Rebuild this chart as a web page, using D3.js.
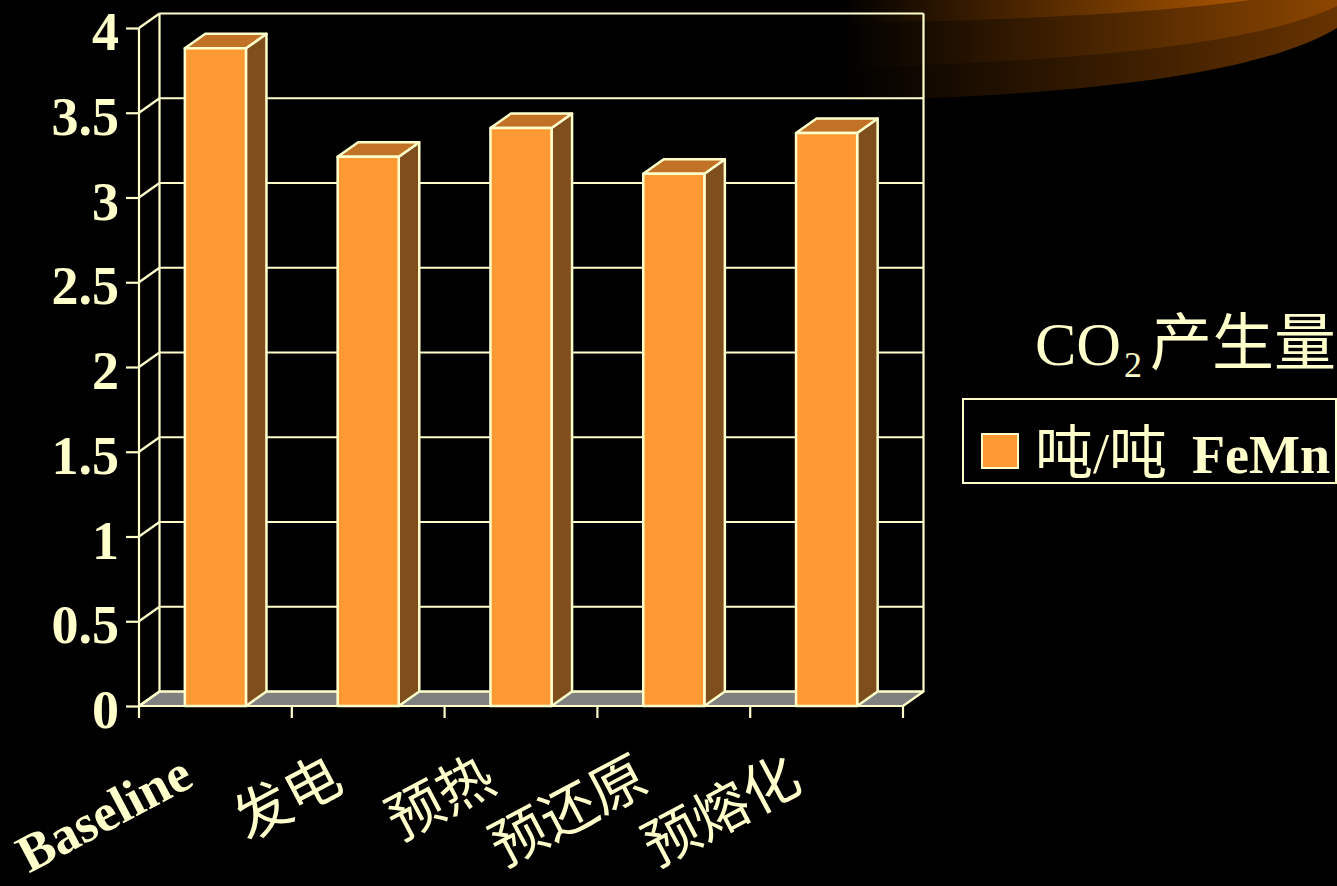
<!DOCTYPE html>
<html>
<head>
<meta charset="utf-8">
<script src="https://cdn.jsdelivr.net/npm/d3@7"></script>
<style>
  html, body { margin: 0; padding: 0; background: #000; }
  svg { display: block; }
</style>
</head>
<body>
<svg id="chart" width="1337" height="886"></svg>
<script>
// CO2 output per tonne of FeMn for each process option
const categories = ["Baseline", "发电", "预热", "预还原", "预熔化"];
const values = [3.88, 3.24, 3.41, 3.14, 3.38];
const yTicks = [0, 0.5, 1, 1.5, 2, 2.5, 3, 3.5, 4];
const yTickLabels = ["0", "0.5", "1", "1.5", "2", "2.5", "3", "3.5", "4"];
const seriesName = ["吨/吨", "FeMn"];
const legendTitle = ["CO", "2", "产生量"];

const INK = "#FFFFCC";
const FRONT = "#FF9933";
const TOP = "#C27226";
const SIDE = "#7F4E1D";
const FLOOR = "#808080";
const SERIF = "'Liberation Serif', 'Times New Roman', 'Noto Sans CJK SC', serif";

const svg = d3.select("#chart");
svg.append("rect").attr("width", 1337).attr("height", 886).attr("fill", "#000");

// ---- decorative swoosh in the top-right corner ----
const defs = svg.append("defs");
function hGrad(id, color, x2) {
  const g = defs.append("linearGradient").attr("id", id)
    .attr("gradientUnits", "userSpaceOnUse")
    .attr("x1", 840).attr("y1", 0).attr("x2", x2).attr("y2", 0);
  g.append("stop").attr("offset", 0).attr("stop-color", "#000");
  g.append("stop").attr("offset", 1).attr("stop-color", color);
}
hGrad("swLow", "#673300", 1337);
hGrad("swMid", "#8C4600", 1337);
hGrad("swTop", "#A85400", 1245);

const swoosh = svg.append("g");
swoosh.append("path").attr("fill", "url(#swLow)")
  .attr("d", "M840,0 L840,101 C1050,96 1250,80 1337,28 L1337,0 Z");
swoosh.append("path").attr("fill", "url(#swMid)")
  .attr("d", "M840,0 L840,68 C1050,62 1250,48 1337,6 L1337,0 Z");
swoosh.append("path").attr("fill", "url(#swTop)")
  .attr("d", "M840,0 L840,23 C1000,21 1160,13 1250,0 Z");

// ---- 3D column chart ----
const y = d3.scaleLinear().domain([0, 4]).range([706, 28]);
const x = d3.scaleBand().domain(categories).range([139, 903])
  .paddingInner(0.6).paddingOuter(0.3);
const DX = 20.5, DY = -14.5;   // depth offset of the back wall
const x0 = x.range()[0], x1 = x.range()[1];
const yMax = y.domain()[1];

const walls = svg.append("g").attr("fill", "none").attr("stroke", INK)
  .attr("stroke-width", 2.2).attr("stroke-linejoin", "round");

// floor
walls.append("path").attr("fill", FLOOR)
  .attr("d", `M${x0},${y(0)} L${x1},${y(0)} L${x1 + DX},${y(0) + DY} L${x0 + DX},${y(0) + DY} Z`);

// back-wall gridlines and side-wall diagonals
yTicks.forEach(t => {
  walls.append("line").attr("x1", x0 + DX).attr("x2", x1 + DX)
    .attr("y1", y(t) + DY).attr("y2", y(t) + DY);
  walls.append("line").attr("x1", x0).attr("x2", x0 + DX)
    .attr("y1", y(t)).attr("y2", y(t) + DY);
});
// wall edges
walls.append("line").attr("x1", x0 + DX).attr("x2", x0 + DX)
  .attr("y1", y(0) + DY).attr("y2", y(yMax) + DY);
walls.append("line").attr("x1", x1 + DX).attr("x2", x1 + DX)
  .attr("y1", y(0) + DY).attr("y2", y(yMax) + DY);
walls.append("line").attr("x1", x0).attr("x2", x0)
  .attr("y1", y(0)).attr("y2", y(yMax));

// bars
const bars = svg.append("g").attr("stroke", INK).attr("stroke-width", 2.5)
  .attr("stroke-linejoin", "round");
categories.forEach((c, i) => {
  const bx0 = x(c), bx1 = x(c) + x.bandwidth();
  const yt = y(values[i]), yb = y(0);
  const g = bars.append("g");
  g.append("path").attr("fill", SIDE)
    .attr("d", `M${bx1},${yt} L${bx1 + DX},${yt + DY} L${bx1 + DX},${yb + DY} L${bx1},${yb} Z`);
  g.append("path").attr("fill", TOP)
    .attr("d", `M${bx0},${yt} L${bx1},${yt} L${bx1 + DX},${yt + DY} L${bx0 + DX},${yt + DY} Z`);
  g.append("rect").attr("fill", FRONT)
    .attr("x", bx0).attr("y", yt).attr("width", bx1 - bx0).attr("height", yb - yt);
});

// front x-axis line and tick marks between categories
const axisG = svg.append("g").attr("stroke", INK).attr("stroke-width", 2.2);
axisG.append("line").attr("x1", x0).attr("x2", x1).attr("y1", y(0)).attr("y2", y(0));
d3.range(categories.length + 1).forEach(k => {
  const tx = x0 + k * x.step();
  axisG.append("line").attr("x1", tx).attr("x2", tx).attr("y1", y(0)).attr("y2", y(0) + 12);
});

// y axis ticks and labels
const yAxis = d3.axisLeft(y).tickValues(yTicks)
  .tickFormat((d, i) => yTickLabels[i]).tickSize(13).tickPadding(7);
const ya = svg.append("g").attr("transform", `translate(${x0},0)`).call(yAxis);
ya.select(".domain").remove();
ya.selectAll(".tick line").attr("stroke", INK).attr("stroke-width", 2.2);
ya.selectAll(".tick text")
  .attr("fill", INK).attr("font-family", SERIF).attr("font-weight", "bold")
  .attr("font-size", 54).attr("dy", "0.4em");

// rotated category labels
svg.append("g").selectAll("text").data(categories).join("text")
  .attr("transform", (d, i) => i === 0
    ? `translate(${x(d) + x.bandwidth() / 2 - 20},785) rotate(-28)`
    : `translate(${x(d) + x.bandwidth() / 2 - 22},789) rotate(-28)`)
  .attr("text-anchor", "end")
  .attr("fill", INK)
  .attr("font-family", SERIF)
  .attr("font-weight", (d, i) => i === 0 ? "bold" : "normal")
  .attr("font-size", (d, i) => i === 0 ? 53 : 56)
  .text(d => d);

// legend title
const title = svg.append("text").attr("fill", INK).attr("font-family", SERIF).attr("y", 365);
title.append("tspan").attr("x", 1035).attr("font-size", 62).text(legendTitle[0]);
title.append("tspan").attr("x", 1124).attr("dy", 12).attr("font-size", 36).text(legendTitle[1]);
title.append("tspan").attr("x", 1150).attr("dy", -12).attr("font-size", 62).text(legendTitle[2]);

// legend box
const lg = svg.append("g");
lg.append("rect").attr("x", 963).attr("y", 399).attr("width", 373).attr("height", 84)
  .attr("fill", "none").attr("stroke", INK).attr("stroke-width", 2);
lg.append("rect").attr("x", 982).attr("y", 434).attr("width", 36).attr("height", 34)
  .attr("fill", FRONT).attr("stroke", INK).attr("stroke-width", 2);
const lt = lg.append("text").attr("fill", INK).attr("font-family", SERIF).attr("y", 473);
lt.append("tspan").attr("x", 1035).attr("font-size", 58).text(seriesName[0]);
lt.append("tspan").attr("x", 1192).attr("font-size", 54).attr("font-weight", "bold").text(seriesName[1]);
</script>
</body>
</html>
